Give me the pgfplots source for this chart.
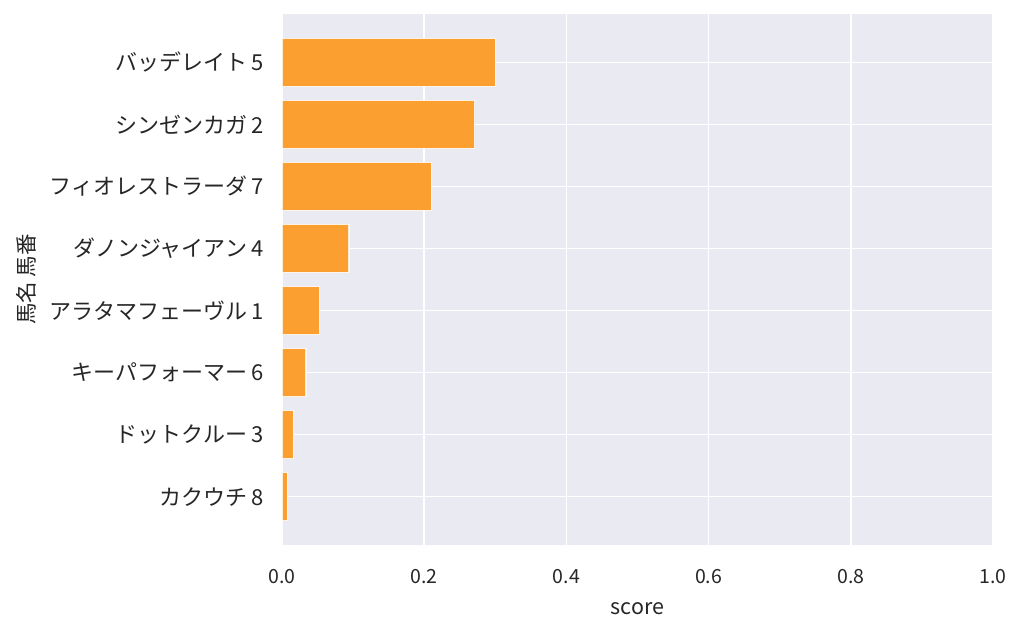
\documentclass[border=0pt]{standalone}
\usepackage{fontspec}
\setmainfont{Noto Sans CJK JP}
\usepackage{pgfplots}
\pgfplotsset{compat=1.18}
\definecolor{bgc}{RGB}{234,234,242}
\definecolor{barc}{RGB}{251,159,48}
\definecolor{txt}{RGB}{38,38,38}
\begin{document}
\begin{tikzpicture}
\path[use as bounding box] (0,0) rectangle (1024pt,634pt);
\begin{axis}[
  at={(282pt,89pt)}, anchor=south west,
  scale only axis, width=711pt, height=531pt,
  xbar, bar width=48pt,
  xmin=0, xmax=1, ymin=-0.78, ymax=7.78,
  y dir=reverse,
  axis background/.style={fill=bgc},
  axis line style={draw=none},
  tick style={draw=none},
  grid=major, major grid style={white, line width=1.5pt},
  xtick={0,0.2,0.4,0.6,0.8,1.0},
  xticklabel style={/pgf/number format/fixed, /pgf/number format/fixed zerofill, /pgf/number format/precision=1, font=\fontsize{19.5pt}{22pt}\selectfont, text=txt},
  /pgf/number format/assume math mode=true,
  ytick={0,1,2,3,4,5,6,7},
  yticklabels={バッデレイト 5, シンゼンカガ 2, フィオレストラーダ 7, ダノンジャイアン 4, アラタマフェーヴル 1, キーパフォーマー 6, ドットクルー 3, カクウチ 8},
  yticklabel style={font=\fontsize{22pt}{24pt}\selectfont, text=txt},
  xlabel={score}, ylabel={馬名 馬番},
  label style={font=\fontsize{21.5pt}{24pt}\selectfont, text=txt},
  xlabel style={at={(axis description cs:0.5,0)}, anchor=base, yshift=-69pt},
  ylabel style={at={(axis description cs:-0.36,0.5)}, anchor=center},
  every y tick label/.append style={xshift=-10pt},
  every x tick label/.append style={yshift=-21pt},
  clip=false,
]
\addplot[fill=barc, draw=white, draw opacity=0.8, line width=1.5pt] coordinates {
(0.300,0) (0.271,1) (0.210,2) (0.094,3) (0.053,4) (0.034,5) (0.016,6) (0.0076,7)
};
\end{axis}
\end{tikzpicture}
\end{document}
